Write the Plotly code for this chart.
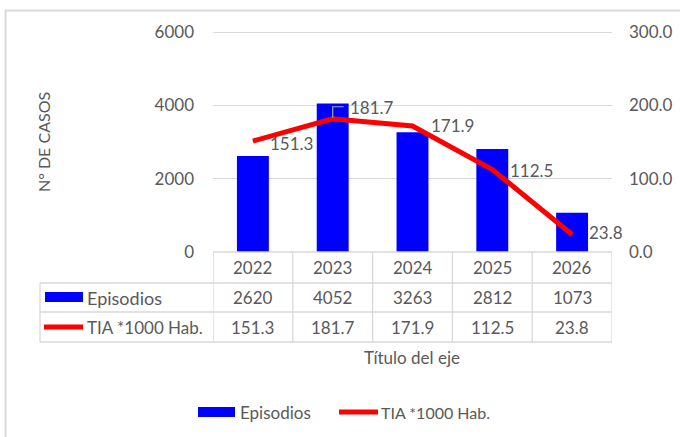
import plotly.graph_objects as go

years = ["2022", "2023", "2024", "2025", "2026"]
episodios = [2620, 4052, 3263, 2812, 1073]
tia = [151.3, 181.7, 171.9, 112.5, 23.8]
tia_labels = ["151.3", "181.7", "171.9", "112.5", "23.8"]

W, H = 680, 437
FONT = "Lato, 'Open Sans', sans-serif"
GREY = "#595959"
LINE = "#d9d9d9"
BLUE = "#0000FF"
RED = "#FF0000"

# axis tops a touch above the last tick so plotly keeps the 6000 gridline
Y1_MAX, Y2_MAX = 6060, 303
PLOT_TOP = 252 - 220 * Y1_MAX / 6000


def px(x):
    return x / W


def py(y):
    return 1 - y / H


# label offsets (xshift, yshift) for the line data labels
label_shift = [(15, -2), (15, 11), (16, 0), (16, -1), (15, 2)]

fig = go.Figure()
fig.add_trace(go.Bar(x=years, y=episodios, name="Episodios",
                     marker=dict(color=BLUE, line=dict(width=0)),
                     width=0.4, showlegend=False))
fig.add_trace(go.Scatter(x=years, y=tia, name="TIA *1000 Hab.", yaxis="y2",
                         mode="lines", line=dict(color=RED, width=5),
                         showlegend=False))

ann = []
shapes = []

# outer chart border (partly cut off)
shapes.append(dict(type="line", xref="paper", yref="paper",
                   x0=px(5.5), x1=px(5.5), y0=py(10), y1=py(437),
                   line=dict(color=LINE, width=2)))
shapes.append(dict(type="line", xref="paper", yref="paper",
                   x0=px(5), x1=px(680), y0=py(10.5), y1=py(10.5),
                   line=dict(color=LINE, width=2)))

# data labels on the line
for i, (v, t) in enumerate(zip(tia, tia_labels)):
    dx, dy = label_shift[i]
    ann.append(dict(x=i, y=v, xref="x", yref="y2", text=t, showarrow=False,
                    xanchor="left", yanchor="middle", xshift=dx, yshift=dy,
                    font=dict(family=FONT, size=17, color=GREY)))

# leader line for 181.7
i_max = tia.index(max(tia))
shapes.append(dict(type="path", xref="x", yref="y2", xsizemode="pixel",
                   ysizemode="pixel", xanchor=i_max, yanchor=tia[i_max],
                   path="M0,1 L0,12 L11,12",
                   line=dict(color="#a6a6a6", width=1.2)))

# data table
row_y = [252, 283, 312, 342]
tx0, tx1 = 40, 612
shapes.append(dict(type="line", xref="paper", yref="paper",
                   x0=px(213), x1=px(tx1), y0=py(row_y[0]), y1=py(row_y[0]),
                   line=dict(color=LINE, width=1.3)))
for ry in row_y[1:]:
    shapes.append(dict(type="line", xref="paper", yref="paper",
                       x0=px(tx0), x1=px(tx1), y0=py(ry), y1=py(ry),
                       line=dict(color=LINE, width=1.3)))
shapes.append(dict(type="line", xref="paper", yref="paper",
                   x0=px(tx0), x1=px(tx0), y0=py(row_y[1]), y1=py(row_y[3]),
                   line=dict(color=LINE, width=1.3)))
for k in range(len(years) + 1):
    shapes.append(dict(type="line", xref="x", yref="paper",
                       x0=k - 0.5, x1=k - 0.5, y0=py(row_y[0]), y1=py(row_y[3]),
                       line=dict(color=LINE, width=1.3)))

row_mid = [(row_y[j] + row_y[j + 1]) / 2 for j in range(3)]
for i, (yr, e, t) in enumerate(zip(years, episodios, tia_labels)):
    for txt, ym in ((yr, row_mid[0]), (str(e), row_mid[1]), (t, row_mid[2])):
        ann.append(dict(x=i, y=py(ym), xref="x", yref="paper", text=txt,
                        showarrow=False, xanchor="center", yanchor="middle",
                        font=dict(family=FONT, size=17, color=GREY)))

# table legend keys
shapes.append(dict(type="rect", xref="paper", yref="paper",
                   x0=px(45), x1=px(83), y0=py(302), y1=py(292),
                   fillcolor=BLUE, line=dict(width=0)))
shapes.append(dict(type="line", xref="paper", yref="paper",
                   x0=px(44), x1=px(83), y0=py(327), y1=py(327),
                   line=dict(color=RED, width=5)))
ann.append(dict(x=px(85), y=py(row_mid[1]), xref="paper", yref="paper",
                text="Episodios", showarrow=False, xanchor="left",
                yanchor="middle", font=dict(family=FONT, size=18, color=GREY)))
ann.append(dict(x=px(85), y=py(row_mid[2]), xref="paper", yref="paper",
                text="TIA *1000 Hab.", showarrow=False, xanchor="left",
                yanchor="middle", font=dict(family=FONT, size=17, color=GREY)))

# axis titles
ann.append(dict(x=px(43), y=py(142), xref="paper", yref="paper",
                text="N° DE CASOS", showarrow=False, textangle=-90,
                xanchor="center", yanchor="middle",
                font=dict(family=FONT, size=16, color=GREY)))
ann.append(dict(x=px(412), y=py(357), xref="paper", yref="paper",
                text="Título del eje", showarrow=False,
                xanchor="center", yanchor="middle",
                font=dict(family=FONT, size=17, color=GREY)))

# bottom legend
shapes.append(dict(type="rect", xref="paper", yref="paper",
                   x0=px(198), x1=px(235), y0=py(417), y1=py(407),
                   fillcolor=BLUE, line=dict(width=0)))
shapes.append(dict(type="line", xref="paper", yref="paper",
                   x0=px(339), x1=px(378), y0=py(412), y1=py(412),
                   line=dict(color=RED, width=5)))
ann.append(dict(x=px(238), y=py(412), xref="paper", yref="paper",
                text="Episodios", showarrow=False, xanchor="left",
                yanchor="middle", font=dict(family=FONT, size=17, color=GREY)))
ann.append(dict(x=px(379), y=py(412), xref="paper", yref="paper",
                text="TIA *1000 Hab.", showarrow=False, xanchor="left",
                yanchor="middle", font=dict(family=FONT, size=16, color=GREY)))

fig.update_layout(
    width=W, height=H,
    margin=dict(l=0, r=0, t=0, b=0, pad=0, autoexpand=False),
    paper_bgcolor="white", plot_bgcolor="white",
    font=dict(family=FONT, size=17, color=GREY),
    xaxis=dict(domain=[px(213), px(612)], type="category",
               range=[-0.5, len(years) - 0.5], autorange=False,
               automargin=False,
               showticklabels=False, showgrid=False, zeroline=False,
               showline=False, ticks=""),
    yaxis=dict(domain=[py(252), py(PLOT_TOP)], range=[0, Y1_MAX],
               tick0=0, dtick=2000, automargin=False,
               showgrid=True, gridcolor=LINE, gridwidth=1.3, zeroline=False,
               showline=False, ticks="", ticklabelstandoff=18,
               tickfont=dict(family=FONT, size=17, color=GREY)),
    yaxis2=dict(domain=[py(252), py(PLOT_TOP)], range=[0, Y2_MAX],
                tick0=0, dtick=100, automargin=False,
                overlaying="y", side="right", tickformat=".1f",
                showgrid=False, zeroline=False, showline=False, ticks="",
                ticklabelstandoff=16,
                tickfont=dict(family=FONT, size=17, color=GREY)),
    bargap=0.6,
    annotations=ann,
    shapes=shapes,
)

fig.write_html(
    "out.html",
    config={"displayModeBar": False},
    post_script="document.body.style.margin='0';",
)
